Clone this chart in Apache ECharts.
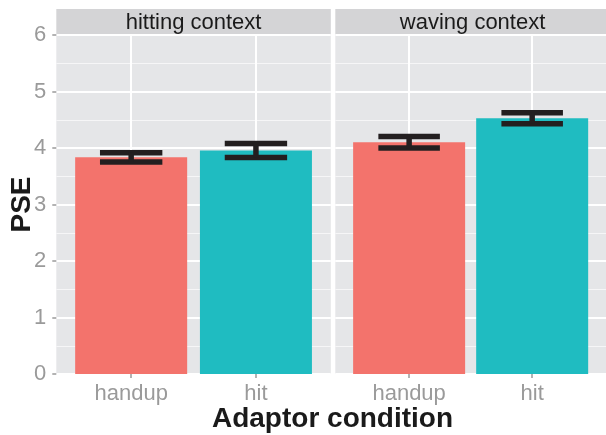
<!DOCTYPE html>
<html>
<head>
<meta charset="utf-8">
<script src="https://cdn.jsdelivr.net/npm/echarts@6/dist/echarts.min.js"></script>
<style>html,body{margin:0;padding:0;background:#fff}#c{width:606px;height:435px}</style>
</head>
<body>
<div id="c"></div>
<script>
// ---- data ----
const categories = ['handup', 'hit'];
const panels = ['hitting context', 'waving context'];
const pseHitting = [3.835, 3.955];
const pseWaving = [4.10, 4.525];
const seHitting = [0.083, 0.125];
const seWaving = [0.102, 0.097];
const yTicks = [0, 1, 2, 3, 4, 5, 6];
const xTitle = 'Adaptor condition';
const yTitle = 'PSE';

// ---- style ----
const barColors = ['#F3736C', '#1FBCC1'];
const panelBg = '#E5E6E8';
const stripBg = '#D4D4D6';
const tickGrey = '#9A9A9A';
const font = 'Liberation Sans, Arial, Helvetica, sans-serif';
const gridTop = 35, gridH = 339, gridW = 274.5;
const lefts = [56.3, 335.3];

const values = [pseHitting, pseWaving];
const ses = [seHitting, seWaving];

const chart = echarts.init(document.getElementById('c'), null, {renderer: 'canvas'});

const grids = [], xAxes = [], yAxes = [], series = [], graphics = [];
panels.forEach((name, i) => {
  grids.push({left: lefts[i], top: gridTop, width: gridW, height: gridH, show: true,
    backgroundColor: panelBg, borderWidth: 0, containLabel: false});
  const pos = categories.map((c, k) => k + 1);
  xAxes.push({type: 'value', gridIndex: i, min: 0.4, max: 2.6,
    axisLine: {show: false}, splitLine: {show: false},
    axisTick: {show: true, customValues: pos, length: 4, lineStyle: {color: tickGrey, width: 1.5}},
    axisLabel: {show: true, customValues: pos, margin: 9, color: tickGrey, fontSize: 22, fontFamily: font,
      formatter: v => categories[Math.round(v) - 1] || ''}});
  yAxes.push({type: 'value', gridIndex: i, min: yTicks[0], max: yTicks[yTicks.length - 1], interval: 1,
    axisLine: {show: false},
    axisTick: {show: i === 0, length: 4, lineStyle: {color: tickGrey, width: 1.5}},
    axisLabel: {show: i === 0, color: tickGrey, fontSize: 22, fontFamily: font, margin: 10},
    splitLine: {show: true, lineStyle: {color: '#FFFFFF', width: 2}},
    minorTick: {show: false, splitNumber: 2},
    minorSplitLine: {show: true, lineStyle: {color: '#F6F6F7', width: 1}}});
  // vertical major gridlines at category positions (behind bars)
  series.push({type: 'line', xAxisIndex: i, yAxisIndex: i, data: [], z: 1, silent: true,
    markLine: {silent: true, z: 1, symbol: 'none', label: {show: false},
      lineStyle: {color: '#FFFFFF', width: 2, type: 'solid'},
      emphasis: {disabled: true},
      data: pos.map(p => ({xAxis: p}))}});
  series.push({type: 'bar', xAxisIndex: i, yAxisIndex: i, z: 2, barWidth: 112,
    data: values[i].map((v, k) => [k + 1, v]),
    itemStyle: {color: p => barColors[p.dataIndex]}, silent: true});
  series.push({type: 'custom', xAxisIndex: i, yAxisIndex: i, z: 6, silent: true,
    data: values[i].map((v, k) => [k + 1, v - ses[i][k], v + ses[i][k]]),
    encode: {x: 0, y: [1, 2]},
    renderItem: (params, api) => {
      const x = api.value(0), lo = api.value(1), hi = api.value(2);
      const tl = api.coord([x - 0.25, hi]), tr = api.coord([x + 0.25, hi]);
      const bl = api.coord([x - 0.25, lo]), br = api.coord([x + 0.25, lo]);
      const mt = api.coord([x, hi]), mb = api.coord([x, lo]);
      const st = {stroke: '#231F20', lineWidth: 5.5, lineCap: 'butt'};
      return {type: 'group', children: [
        {type: 'line', shape: {x1: tl[0], y1: tl[1], x2: tr[0], y2: tr[1]}, style: st},
        {type: 'line', shape: {x1: bl[0], y1: bl[1], x2: br[0], y2: br[1]}, style: st},
        {type: 'line', shape: {x1: mt[0], y1: mt[1], x2: mb[0], y2: mb[1]}, style: st}
      ]};
    }});
  // facet strip
  graphics.push({type: 'rect', shape: {x: lefts[i], y: 9, width: gridW, height: 26.5},
    style: {fill: stripBg}, silent: true, z: 0});
  graphics.push({type: 'text', x: lefts[i] + gridW / 2, y: 23, silent: true,
    style: {text: name, fill: '#1A1A1A', font: '22px ' + font, textAlign: 'center', textVerticalAlign: 'middle'}});
});

graphics.push({type: 'text', x: 332.5, y: 419, silent: true,
  style: {text: xTitle, fill: '#1A1A1A', font: 'bold 28px ' + font, textAlign: 'center', textVerticalAlign: 'middle'}});
graphics.push({type: 'text', x: 22, y: 204.5, rotation: Math.PI / 2, silent: true,
  style: {text: yTitle, fill: '#1A1A1A', font: 'bold 28px ' + font, textAlign: 'center', textVerticalAlign: 'middle'}});

chart.setOption({
  animation: false,
  grid: grids, xAxis: xAxes, yAxis: yAxes, series: series, graphic: graphics
});
</script>
</body>
</html>
